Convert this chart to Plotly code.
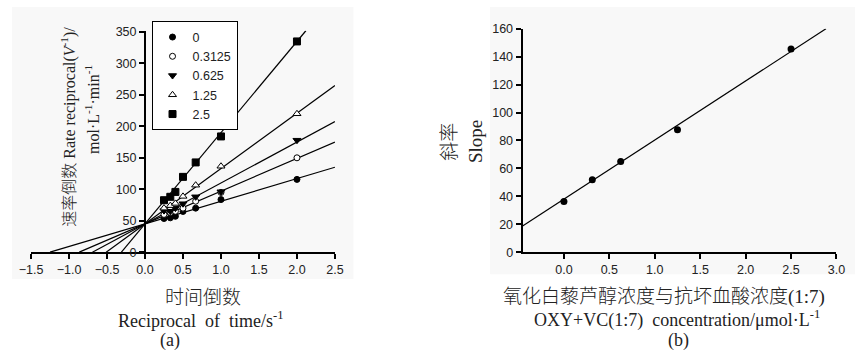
import plotly.graph_objects as go

W, H = 864, 363

# ---------------- data (a) ----------------
recip_time = [0.25, 0.333, 0.4, 0.5, 0.667, 1.0, 2.0]
series_names = ["0", "0.3125", "0.625", "1.25", "2.5"]
rate_0 = [53.5, 54.6, 57.0, 64.7, 70.0, 83.6, 115.7]
rate_03125 = [60.0, 63.0, 65.0, 70.0, 81.0, 95.0, 150.0]
rate_0625 = [66.0, 65.0, 70.0, 77.0, 88.0, 96.0, 178.0]
rate_125 = [70.0, 74.0, 77.5, 88.7, 106.5, 136.6, 220.0]
rate_25 = [82.6, 88.0, 95.8, 119.7, 142.7, 184.0, 335.0]
fit_slopes_a = [36, 52, 65, 88, 145]
fit_intercept_a = 45

# ---------------- data (b) ----------------
conc = [0.0, 0.3125, 0.625, 1.25, 2.5]
slope_vals = [36.3, 51.9, 64.9, 87.7, 145.5]
fit_slope_b = 42.3
fit_intercept_b = 38.0

# axis ranges
xa_range = [-1.5, 2.5]
ya_range = [0, 352]
xb_range = [-0.455, 3.0]
yb_range = [0, 160]


def fx(px):
    return px / W


def fy(py):
    return 1 - py / H


dom_xa = [fx(19.5), fx(331)]
dom_xb = [fx(523.3), fx(845)]
dom_ya = [fy(255), fy(24.7)]
dom_yb = [fy(255), fy(22.7)]
ya_pos = dom_xa[0] + (0 - xa_range[0]) / (xa_range[1] - xa_range[0]) * (dom_xa[1] - dom_xa[0])

fig = go.Figure()

# fitted lines (a)
for m in fit_slopes_a:
    x0 = -fit_intercept_a / m
    x1 = min(xa_range[1], (ya_range[1] - fit_intercept_a) / m)
    fig.add_trace(go.Scatter(x=[x0, x1], y=[0, fit_intercept_a + m * x1], mode="lines",
                             line=dict(color="black", width=1.2), showlegend=False,
                             hoverinfo="skip", xaxis="x", yaxis="y"))

series = [rate_0, rate_03125, rate_0625, rate_125, rate_25]
styles = [
    dict(symbol="circle", size=6, color="black", line=dict(color="black", width=1)),
    dict(symbol="circle", size=6, color="white", line=dict(color="black", width=1)),
    dict(symbol="triangle-down", size=7, color="black", line=dict(color="black", width=1)),
    dict(symbol="triangle-up", size=7, color="white", line=dict(color="black", width=1)),
    dict(symbol="square", size=7, color="black", line=dict(color="black", width=1)),
]
for name, ys, st in zip(series_names, series, styles):
    fig.add_trace(go.Scatter(x=recip_time, y=ys, mode="markers", name=name, marker=st,
                             xaxis="x", yaxis="y"))

# (b)
xb0 = xb_range[0]
xb1 = (yb_range[1] - fit_intercept_b) / fit_slope_b
fig.add_trace(go.Scatter(x=[xb0, xb1], y=[fit_intercept_b + fit_slope_b * xb0, yb_range[1]],
                         mode="lines", line=dict(color="black", width=1.2), showlegend=False,
                         hoverinfo="skip", xaxis="x2", yaxis="y2"))
fig.add_trace(go.Scatter(x=conc, y=slope_vals, mode="markers", showlegend=False,
                         marker=dict(symbol="circle", size=7, color="black"),
                         xaxis="x2", yaxis="y2"))

tickfont = dict(family="Liberation Sans, Arial", size=12.5, color="#222")
axis_common = dict(showgrid=False, zeroline=False, showline=True, linecolor="black",
                   linewidth=2, ticks="outside", ticklen=5, tickwidth=2, tickcolor="black",
                   tickfont=tickfont)

fig.update_layout(
    width=W, height=H, margin=dict(l=0, r=0, t=0, b=0),
    paper_bgcolor="white", plot_bgcolor="rgba(0,0,0,0)",
    xaxis=dict(domain=dom_xa, range=xa_range, anchor="y", dtick=0.5, tick0=-1.5,
               tickformat=".1f", **axis_common),
    yaxis=dict(domain=dom_ya, range=ya_range, anchor="free", position=ya_pos,
               dtick=50, tick0=0, **axis_common),
    xaxis2=dict(domain=dom_xb, range=xb_range, anchor="y2", dtick=0.5, tick0=0,
                tickformat=".1f", **axis_common),
    yaxis2=dict(domain=dom_yb, range=yb_range, anchor="x2", dtick=20, tick0=0,
                **axis_common),
    legend=dict(x=fx(143), y=fy(15), xanchor="left", yanchor="top",
                bordercolor="black", borderwidth=1, bgcolor="white",
                font=dict(family="Liberation Sans, Arial", size=12.5, color="#222"),
                tracegroupgap=0),
    showlegend=True,
)

# faint background panels
fig.add_shape(type="rect", xref="paper", yref="paper", x0=0, x1=fx(350), y0=fy(283), y1=1,
              fillcolor="#f8f8f8", line=dict(width=0), layer="below")
fig.add_shape(type="rect", xref="paper", yref="paper", x0=fx(490), x1=1, y0=fy(278), y1=1,
              fillcolor="#f8f8f8", line=dict(width=0), layer="below")

serif = "Liberation Serif, Times New Roman, Noto Sans CJK SC"


def ann(text, px, py, size, angle=0):
    fig.add_annotation(text=text, x=fx(px), y=fy(py), xref="paper", yref="paper",
                       showarrow=False, textangle=angle, xanchor="center", yanchor="middle",
                       font=dict(family=serif, size=size, color="#222", weight=300))


ann("速率倒数 Rate reciprocal(<i>V</i><sup>-1</sup>)/", 58, 125, 16, -90)
ann("mol·L<sup>-1</sup>·min<sup>-1</sup>", 82, 107, 16, -90)
ann("时间倒数", 196, 302, 19)
ann("Reciprocal  of  time/s<sup>-1</sup>", 193, 325, 18)
ann("(a)", 162, 347, 18)

ann("斜率", 448, 140, 19, -90)
ann("Slope", 475, 140, 19, -90)
ann("氧化白藜芦醇浓度与抗坏血酸浓度(1:7)", 668, 302, 19)
ann("OXY+VC(1:7)  concentration/μmol·L<sup>-1</sup>", 682, 325, 18)
ann("(b)", 683, 347, 18)

fig.write_html("out.html")
